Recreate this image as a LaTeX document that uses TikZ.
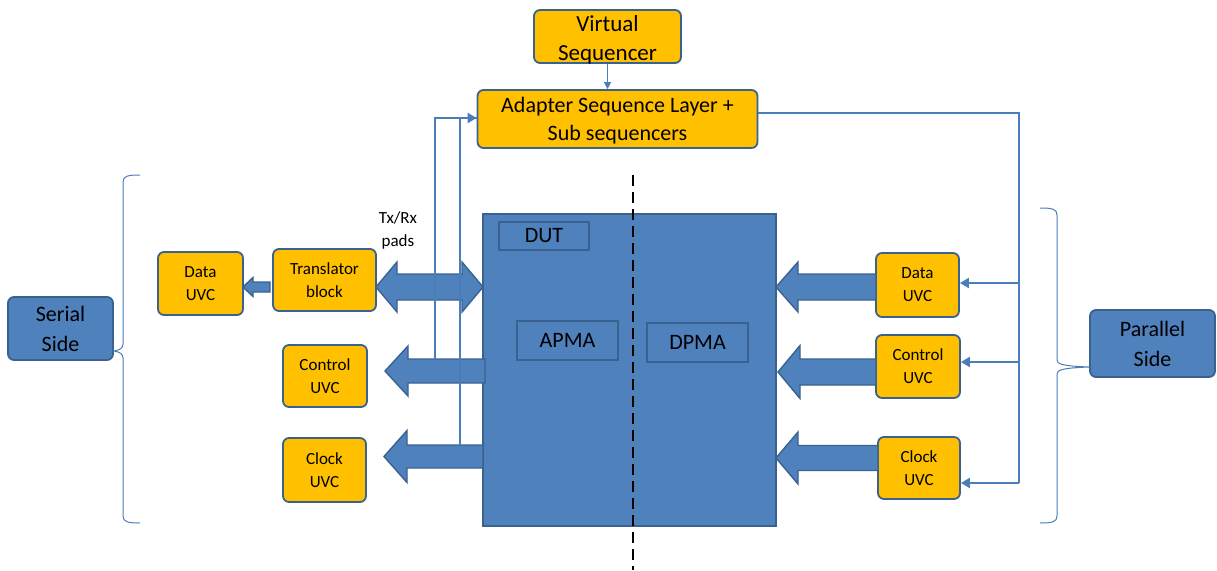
\documentclass[tikz,border=0pt]{standalone}
\usepackage{fontspec}
\setmainfont{Carlito}
\usetikzlibrary{arrows.meta,calc}

\definecolor{uvcfill}{HTML}{FFC000}
\definecolor{bluefill}{HTML}{4F81BD}
\definecolor{blueedge}{HTML}{3A6291}
\definecolor{wire}{HTML}{4A7EBB}

\tikzset{
  ubox/.style={rounded corners=6pt, fill=uvcfill, draw=blueedge, line width=1.8pt,
    align=center, inner sep=0pt, text=black},
  sidebox/.style={rounded corners=6pt, fill=bluefill, draw=blueedge, line width=1.8pt,
    align=center, inner sep=0pt, text=black, font=\fontsize{22}{30}\selectfont},
  tagbox/.style={draw=blueedge, line width=1.6pt, inner sep=0pt, text=black,
    font=\fontsize{22}{26}\selectfont},
  small/.style={font=\fontsize{17}{23}\selectfont},
  wireline/.style={draw=wire, line width=2.6pt},
  bigtip/.style={-{Triangle[length=9pt,width=10pt]}},
  fatarrow/.style={fill=bluefill, draw=blueedge, line width=1.4pt, line join=miter},
  brace/.style={draw=wire, line width=1pt},
}

% left-pointing block arrow: tip x, head base x, tail x, centre y, shaft half, head half
\newcommand{\leftblock}[6]{%
  \filldraw[fatarrow] (#1,#4) -- (#2,#4-#6) -- (#2,#4-#5) -- (#3,#4-#5)
    -- (#3,#4+#5) -- (#2,#4+#5) -- (#2,#4+#6) -- cycle;}

\begin{document}
\begin{tikzpicture}[x=1pt, y=-1pt]
\useasboundingbox (0,0) rectangle (1217,570);

% device under test
\filldraw[fill=bluefill, draw=blueedge, line width=1.6pt] (483,214) rectangle (776,526);
\node[tagbox, minimum width=90pt, minimum height=28pt] (dutlbl) at (544,236) {DUT};
\node[tagbox, minimum width=101pt, minimum height=39pt] (apma) at (567.5,340.5) {APMA};
\node[tagbox, minimum width=101pt, minimum height=39pt] (dpma) at (697.5,342.5) {DPMA};
\draw[black, line width=2.8pt, dash pattern=on 11pt off 6pt] (633,175) -- (633,570);

% sequencers
\node[ubox, minimum width=147pt, minimum height=53pt] (vs) at (607.5,36.5) {};
\node[align=center, inner sep=0pt, font=\fontsize{23}{29}\selectfont]
  at ([yshift=-3pt]vs.center) {Virtual\\Sequencer};
\node[ubox, minimum width=280pt, minimum height=58pt] (asl) at (617.5,119) {};
\node[align=center, inner sep=0pt, font=\fontsize{22}{28}\selectfont]
  at ([yshift=-1.5pt]asl.center) {Adapter Sequence Layer +\\Sub sequencers};

% serial side agents
\node[ubox, small, minimum width=103pt, minimum height=62pt] (trans) at (324.5,280) {Translator\\block};
\node[ubox, small, minimum width=85pt, minimum height=63pt] (dataL) at (200.5,283.5) {Data\\UVC};
\node[ubox, small, minimum width=84pt, minimum height=62pt] (ctrlL) at (325,376) {Control\\UVC};
\node[ubox, small, minimum width=83pt, minimum height=64pt] (clkL) at (324.5,470) {Clock\\UVC};
\node[small, align=center] (pads) at (398,230) {Tx/Rx\\pads};

% parallel side agents
\node[ubox, small, minimum width=83pt, minimum height=64pt] (dataR) at (917.5,285) {Data\\UVC};
\node[ubox, small, minimum width=84pt, minimum height=63pt] (ctrlR) at (918,366.5) {Control\\UVC};
\node[ubox, small, minimum width=82pt, minimum height=62pt] (clkR) at (919,468) {Clock\\UVC};

% side labels
\node[sidebox, minimum width=105pt, minimum height=63pt] (serial) at (60.5,328.5) {Serial\\Side};
\node[sidebox, minimum width=125pt, minimum height=67pt] (parallel) at (1152.5,343.5) {Parallel\\Side};

% block arrows, serial side
\leftblock{243}{253}{270}{287}{5}{9.5}
\filldraw[fatarrow] (376,287) -- (397,262) -- (397,274) -- (462,274) -- (462,262)
  -- (483,287) -- (462,312) -- (462,300) -- (397,300) -- (397,312) -- cycle;
\leftblock{385}{408}{485}{371}{12}{25}
\leftblock{384}{407}{483}{456.5}{11.5}{26}

% block arrows, parallel side
\leftblock{776}{798}{876}{287}{13}{25}
\leftblock{778}{800}{876}{372}{13}{26.5}
\leftblock{776}{798}{878}{458}{12.5}{26}

% virtual sequencer to adapter layer
\draw[draw=wire, line width=1.2pt, -{Triangle[length=7pt,width=7pt]}]
  (vs.south) -- (vs.south |- asl.north);

% feedback from the serial monitors
\coordinate (ctrlTap) at (435,359);
\coordinate (clkTap) at (460,445);
\coordinate (loopTop) at (435,118);
\draw[wireline, line join=miter] (ctrlTap) -- (loopTop) -- (asl.west |- loopTop);
\draw[wireline, bigtip] (loopTop) -- (asl.west |- loopTop);
\draw[wireline] (clkTap) -- (clkTap |- loopTop);

% adapter layer to parallel agents
\coordinate (busTop) at (1019,113);
\coordinate (busData) at (1019,283);
\coordinate (busCtrl) at (1019,362);
\coordinate (busClk) at (1019,483);
\draw[wireline, line join=miter] (asl.east |- busTop) -- (busTop) -- (busClk);
\draw[wireline, bigtip] (busData) -- (dataR.east |- busData);
\draw[wireline, bigtip] (busCtrl) -- (ctrlR.east |- busCtrl);
\draw[wireline, bigtip] (busClk) -- (clkR.east |- busClk);

% braces
\draw[brace] (140,175) .. controls (128,175) and (123,176) .. (123,182) -- (123,344)
  .. controls (123,348) and (120,350) .. (serial.east |- 0,351)
  .. controls (120,352) and (123,354) .. (123,358) -- (123,516)
  .. controls (123,522) and (128,523) .. (140,523);
\draw[brace] (1040,208) .. controls (1052,208) and (1057,209) .. (1057,215) -- (1057,360)
  .. controls (1057,364) and (1062,366) .. (parallel.west |- 0,367)
  .. controls (1062,368) and (1057,370) .. (1057,374) -- (1057,516)
  .. controls (1057,522) and (1052,523) .. (1040,523);
\end{tikzpicture}
\end{document}
